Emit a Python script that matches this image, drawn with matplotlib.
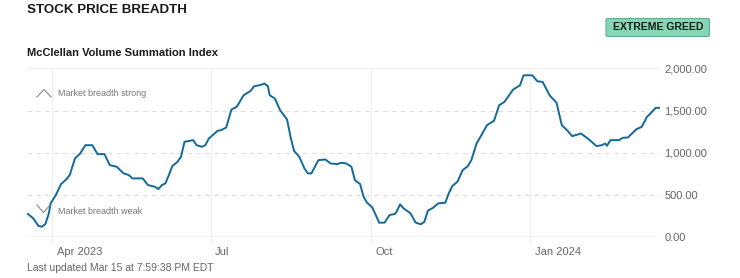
import matplotlib
matplotlib.use("Agg")
import matplotlib.pyplot as plt
import matplotlib.transforms as mtransforms
from matplotlib.patches import FancyBboxPatch
from matplotlib.lines import Line2D
import pandas as pd

dates = [
    "2023-03-18", "2023-03-21", "2023-03-24", "2023-03-26", "2023-03-28", "2023-03-30",
    "2023-03-31", "2023-04-03", "2023-04-06", "2023-04-09", "2023-04-11", "2023-04-14",
    "2023-04-17", "2023-04-20", "2023-04-24", "2023-04-27", "2023-05-01", "2023-05-04",
    "2023-05-08", "2023-05-12", "2023-05-15", "2023-05-17", "2023-05-23", "2023-05-26",
    "2023-05-30", "2023-06-01", "2023-06-03", "2023-06-05", "2023-06-07", "2023-06-09",
    "2023-06-12", "2023-06-14", "2023-06-16", "2023-06-21", "2023-06-23", "2023-06-26",
    "2023-06-28", "2023-06-30", "2023-07-05", "2023-07-07", "2023-07-10", "2023-07-13",
    "2023-07-16", "2023-07-20", "2023-07-24", "2023-07-26", "2023-07-29", "2023-08-01",
    "2023-08-03", "2023-08-04", "2023-08-07", "2023-08-10", "2023-08-14", "2023-08-16",
    "2023-08-18", "2023-08-21", "2023-08-24", "2023-08-26", "2023-08-28", "2023-08-30",
    "2023-09-01", "2023-09-05", "2023-09-08", "2023-09-12", "2023-09-14", "2023-09-17",
    "2023-09-20", "2023-09-22", "2023-09-25", "2023-09-27", "2023-09-29", "2023-10-02",
    "2023-10-04", "2023-10-06", "2023-10-09", "2023-10-12", "2023-10-15", "2023-10-16",
    "2023-10-18", "2023-10-20", "2023-10-24", "2023-10-27", "2023-10-30", "2023-11-01",
    "2023-11-03", "2023-11-06", "2023-11-09", "2023-11-13", "2023-11-15", "2023-11-17",
    "2023-11-20", "2023-11-23", "2023-11-26", "2023-11-28", "2023-12-01", "2023-12-03",
    "2023-12-07", "2023-12-11", "2023-12-14", "2023-12-17", "2023-12-19", "2023-12-22",
    "2023-12-26", "2023-12-28", "2024-01-02", "2024-01-05", "2024-01-08", "2024-01-12",
    "2024-01-16", "2024-01-19", "2024-01-22", "2024-01-25", "2024-01-27", "2024-01-30",
    "2024-02-03", "2024-02-08", "2024-02-11", "2024-02-13", "2024-02-14", "2024-02-16",
    "2024-02-21", "2024-02-23", "2024-02-26", "2024-02-28", "2024-03-02", "2024-03-05",
    "2024-03-08", "2024-03-10", "2024-03-13", "2024-03-15",
]
values = [
    276, 224, 134, 126, 157, 283,
    402, 500, 630, 685, 736, 933,
    992, 1090, 1090, 984, 984, 854,
    835, 756, 736, 697, 697, 618,
    598, 571, 618, 638, 736, 843,
    894, 953, 1130, 1150, 1090, 1071,
    1090, 1169, 1260, 1268, 1299, 1512,
    1543, 1681, 1732, 1787, 1799, 1819,
    1787, 1681, 1642, 1504, 1394, 1189,
    1024, 953, 815, 756, 756, 835,
    913, 921, 874, 866, 882, 874,
    835, 677, 630, 480, 409, 354,
    264, 173, 173, 264, 276, 303,
    390, 343, 283, 173, 154, 185,
    315, 350, 402, 409, 520, 606,
    657, 795, 843, 913, 1110, 1181,
    1327, 1378, 1563, 1602, 1661, 1748,
    1799, 1917, 1917, 1846, 1839, 1681,
    1591, 1327, 1268, 1197, 1209, 1228,
    1169, 1079, 1090, 1110, 1083, 1150,
    1150, 1177, 1181, 1220, 1280, 1307,
    1425, 1465, 1532, 1532,
]
yticks = [0, 500, 1000, 1500, 2000]
xticks = ["2023-04-01", "2023-07-01", "2023-10-01", "2024-01-01"]
xtick_labels = ["Apr 2023", "Jul", "Oct", "Jan 2024"]

plt.rcParams['font.family'] = ['Liberation Sans', 'DejaVu Sans']

W, H = 740, 278
fig = plt.figure(figsize=(W / 100, H / 100), dpi=100)
ax = fig.add_axes([27 / W, 1 - 237.3 / H, (660 - 27) / W, (237.3 - 68.3) / H])

x = pd.to_datetime(dates)
ax.plot(x, values, color='#12699a', lw=1.4, solid_joinstyle='round', zorder=3)

ax.set_xlim(pd.Timestamp("2023-03-17 10:00"), pd.Timestamp("2024-03-15 12:00"))
ax.set_ylim(0, 2000)

# grid lines
for v in yticks[1:-1]:
    ax.axhline(v, color='#dedede', lw=0.8, ls=(0, (4, 4)), zorder=1)
ax.axhline(2000, color='#f0f0f0', lw=0.8, zorder=1)
ax.axhline(0, color='#cfcfcf', lw=1.0, zorder=2)
for t in xticks:
    ax.axvline(pd.Timestamp(t), color='#efefef', lw=0.8, zorder=1)

for s in ax.spines.values():
    s.set_visible(False)

ax.yaxis.tick_right()
ax.set_yticks(yticks)
ax.set_yticklabels([f"{v:,.2f}" for v in yticks])
ax.tick_params(axis='y', length=0, pad=3, labelsize=8, labelcolor='#666666')

ax.set_xticks(pd.to_datetime(xticks))
ax.set_xticklabels(xtick_labels)
ax.tick_params(axis='x', length=4, width=0.8, color='#efefef', pad=3,
               labelsize=8, labelcolor='#666666')
shift = mtransforms.ScaledTranslation(4.5 / 100, 0, fig.dpi_scale_trans)
for lbl in ax.get_xticklabels():
    lbl.set_horizontalalignment('left')
    lbl.set_transform(lbl.get_transform() + shift)

# titles
fig.text(27 / W, 1 - 10 / H, "STOCK PRICE BREADTH", fontsize=9.6, fontweight='bold',
         color='#1a1a1a', va='center', ha='left')
fig.text(27 / W, 1 - 53 / H, "McClellan Volume Summation Index", fontsize=8,
         fontweight='bold', color='#1a1a1a', va='center', ha='left')
fig.text(27 / W, 1 - 268 / H, "Last updated Mar 15 at 7:59:38 PM EDT", fontsize=7.5,
         color='#666666', va='center', ha='left')

# badge
bx0, by0, bx1, by1 = 606, 18.5, 709.5, 36.5
badge = FancyBboxPatch((bx0 / W, 1 - by1 / H), (bx1 - bx0) / W, (by1 - by0) / H,
                       boxstyle="round,pad=0,rounding_size=0.004",
                       transform=fig.transFigure, facecolor='#84d6b6',
                       edgecolor='#5fae8f', lw=0.8)
fig.patches.append(badge)
fig.text((bx0 + bx1) / 2 / W, 1 - (by0 + by1) / 2 / H, "EXTREME GREED", fontsize=7.5,
         fontweight='bold', color='#111d18', va='center', ha='center')

# market breadth markers
fig.lines.append(Line2D([37 / W, 44 / W, 51 / W], [1 - 97 / H, 1 - 89.5 / H, 1 - 97 / H],
                        transform=fig.transFigure, color='#888888', lw=0.8))
fig.lines.append(Line2D([37 / W, 43.5 / W, 50 / W], [1 - 205 / H, 1 - 212.5 / H, 1 - 205 / H],
                        transform=fig.transFigure, color='#888888', lw=0.8))
fig.text(58 / W, 1 - 94 / H, "Market breadth strong", fontsize=6.5, color='#777777',
         va='center', ha='left')
fig.text(58 / W, 1 - 211 / H, "Market breadth weak", fontsize=6.5, color='#777777',
         va='center', ha='left')

fig.savefig("out.png", dpi=100)
